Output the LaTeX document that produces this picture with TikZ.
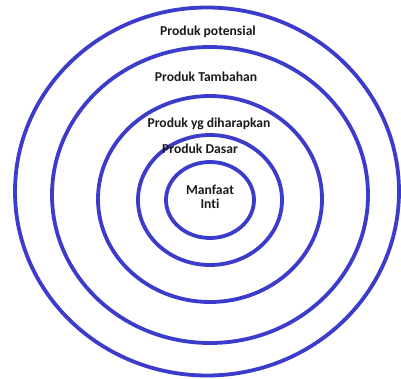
\documentclass[tikz,border=0pt]{standalone}
\usepackage{fontspec}
\setmainfont[Ligatures=NoCommon]{Carlito}
\usetikzlibrary{positioning}
\definecolor{RingBlue}{HTML}{3B3BCC}
\definecolor{LabelBlack}{HTML}{1A1A1A}

\begin{document}
\begin{tikzpicture}[x=1pt, y=-1pt,
    ring/.style={draw=RingBlue, line width=3.8pt},
    lbl/.style={text=LabelBlack, font=\fontsize{13.6}{15}\selectfont\bfseries, inner sep=0pt, align=center}]
  \useasboundingbox (0,0) rectangle (401,378);
  % rings, outer to inner
  \draw[ring] (207,191.5) ellipse [x radius=192, y radius=184];
  \draw[ring] (210,195) ellipse [x radius=158, y radius=148];
  \draw[ring] (210,199) ellipse [x radius=112, y radius=103];
  \draw[ring] (210,200) ellipse [x radius=72, y radius=65];
  \draw[ring] (210,200) ellipse [x radius=44, y radius=38];
  % labels
  \node[lbl] (potensial) at (208,32) {Produk potensial};
  \node[lbl] (tambahan) at (206,77) {Produk Tambahan};
  \node[lbl] (harapan) at (209,124) {Produk yg diharapkan};
  \node[lbl] (dasar) at (200,149) {Produk Dasar};
  \node[lbl] (inti) at (210,197) {Manfaat\\[-1pt]Inti};
\end{tikzpicture}
\end{document}
